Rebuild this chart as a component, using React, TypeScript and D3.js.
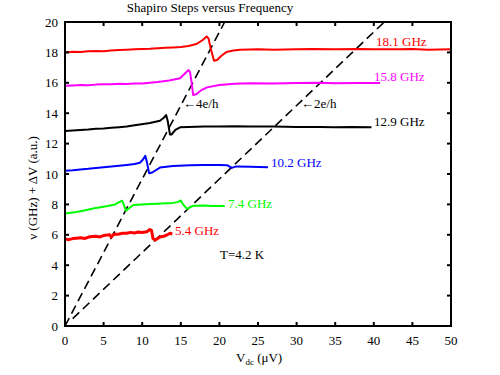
import React from "react";
import * as d3 from "d3";

type P = [number, number];

const xTicks = [0, 5, 10, 15, 20, 25, 30, 35, 40, 45, 50];
const yTicks = [0, 2, 4, 6, 8, 10, 12, 14, 16, 18, 20];

const red181: P[] = [[0,18.0],[1,18.04],[2,18.02],[3,18.08],[4,18.1],[5,18.08],[6,18.13],[7,18.15],[8,18.18],[9,18.2],[10,18.22],[11,18.24],[12,18.28],[13,18.3],[14,18.33],[15,18.36],[16,18.42],[17,18.55],[17.8,18.8],[18.35,19.05],[18.6,18.9],[18.9,18.2],[19.3,17.45],[19.7,17.5],[20.3,17.8],[20.9,18.02],[21.8,18.12],[22.7,18.18],[25,18.2],[27,18.18],[30,18.2],[32,18.22],[35,18.2],[38,18.22],[40,18.2],[43,18.2],[45,18.22],[47,18.18],[50,18.2]];
const mag158: P[] = [[0,15.8],[1,15.82],[2,15.85],[3,15.84],[4,15.88],[5,15.9],[6,15.9],[7,15.93],[8,15.92],[9,15.95],[10,15.95],[11,16.0],[12,16.05],[13.5,16.15],[14.9,16.3],[15.6,16.65],[16.0,16.84],[16.2,16.7],[16.4,16.0],[16.6,15.2],[17.0,15.25],[17.6,15.5],[18.4,15.7],[20,15.85],[22,15.93],[24,15.97],[27,15.95],[30,15.98],[33,16.0],[35,15.97],[38,15.98],[40.8,15.98]];
const black129: P[] = [[0,12.83],[1,12.86],[2,12.9],[3,12.93],[4,12.98],[5,13.0],[6,13.05],[7,13.08],[8,13.12],[9,13.2],[9.7,13.25],[11,13.35],[12.3,13.5],[12.8,13.7],[13.1,13.88],[13.3,13.5],[13.6,12.6],[13.8,12.6],[14.3,12.9],[14.9,13.07],[16,13.1],[18,13.12],[20,13.12],[22,13.14],[24,13.12],[27,13.12],[30,13.1],[33,13.1],[35,13.08],[37,13.1],[39.7,13.07]];
const blue102: P[] = [[0,10.22],[1,10.25],[2,10.3],[3,10.34],[4,10.4],[5,10.45],[6,10.5],[7,10.55],[8,10.6],[9,10.66],[9.7,10.74],[10.1,10.95],[10.4,11.2],[10.6,10.8],[10.9,10.05],[11.3,10.1],[12.3,10.42],[14,10.52],[16.2,10.58],[18,10.6],[20,10.6],[21,10.58],[21.6,10.4],[22.2,10.5],[24,10.47],[26.3,10.45]];
const green74: P[] = [[0,7.4],[1.5,7.5],[2.5,7.6],[3.2,7.68],[4,7.76],[5,7.85],[6,7.95],[6.5,8.0],[7.0,8.15],[7.4,8.24],[7.6,8.0],[7.9,7.59],[8.3,7.75],[8.85,7.96],[10,8.0],[11,8.02],[12,8.05],[13,8.08],[14,8.1],[14.6,8.15],[15.0,8.26],[15.3,8.0],[15.8,7.7],[16.6,7.91],[18,7.92],[19,7.9],[20.7,7.9]];
const red54: P[] = [[0,5.72],[0.5,5.68],[1,5.75],[1.5,5.78],[2,5.8],[2.6,5.76],[3.2,5.87],[4,5.9],[4.5,5.86],[5,5.95],[5.8,6.0],[6.0,5.85],[6.3,6.02],[7,6.05],[7.5,6.1],[8,6.1],[8.5,6.16],[9,6.12],[9.5,6.18],[10,6.15],[10.6,6.2],[11.0,6.35],[11.2,6.3],[11.4,5.75],[11.7,5.65],[12.3,5.85],[12.8,5.9],[13.2,5.99],[13.6,6.1],[13.9,6.05]];

const series = [
  { data: red181, color: "#ff0000", label: "18.1 GHz", lx: 376, ly: 46, w: 2 },
  { data: mag158, color: "#ff00ff", label: "15.8 GHz", lx: 374, ly: 81, w: 2 },
  { data: black129, color: "#000000", label: "12.9 GHz", lx: 374, ly: 126, w: 2 },
  { data: blue102, color: "#0000ff", label: "10.2 GHz", lx: 271, ly: 167, w: 2 },
  { data: green74, color: "#00ff00", label: "7.4 GHz", lx: 228, ly: 208, w: 2 },
  { data: red54, color: "#ff0000", label: "5.4 GHz", lx: 175, ly: 235, w: 3 },
];

// Josephson relations (GHz per µV)
const twoEh: P[] = [[1, 0.4836], [41.36, 20]];
const fourEh: P[] = [[0, 0], [20.68, 20]];

const L = 65, R = 451, T = 22, B = 326;

export default function App() {
  const x = d3.scaleLinear().domain([0, 50]).range([L, R]);
  const y = d3.scaleLinear().domain([0, 20]).range([B, T]);
  const line = d3.line<P>().x((d) => x(d[0])).y((d) => y(d[1]));
  return (
    <svg width={500} height={375} style={{ position: "absolute", left: 0, top: 0, background: "#fff", fontFamily: "Liberation Serif, DejaVu Serif, serif", fontSize: 13 }}>
      <text x={210} y={12} textAnchor="middle">Shapiro Steps versus Frequency</text>
      <path d={line(fourEh) || ""} fill="none" stroke="#000" strokeWidth={1.6} strokeDasharray="9,5" />
      <path d={line(twoEh) || ""} fill="none" stroke="#000" strokeWidth={1.6} strokeDasharray="9,5" />
      {series.map((s, i) => (
        <g key={i}>
          <path d={line(s.data) || ""} fill="none" stroke={s.color} strokeWidth={s.w} strokeLinejoin="round" />
          <text x={s.lx} y={s.ly} fill={s.color}>{s.label}</text>
        </g>
      ))}
      <text x={183} y={108}>←4e/h</text>
      <text x={301} y={108}>←2e/h</text>
      <text x={220} y={259}>T=4.2 K</text>
      <rect x={L} y={T} width={R - L} height={B - T} fill="none" stroke="#000" strokeWidth={2} />
      {xTicks.map((t) => (
        <g key={"x" + t}>
          <line x1={x(t)} x2={x(t)} y1={B} y2={B - 4} stroke="#000" strokeWidth={2} />
          <line x1={x(t)} x2={x(t)} y1={T} y2={T + 4} stroke="#000" strokeWidth={2} />
          <text x={x(t)} y={345} textAnchor="middle">{t}</text>
        </g>
      ))}
      {yTicks.map((t) => (
        <g key={"y" + t}>
          <line x1={L} x2={L + 4} y1={y(t)} y2={y(t)} stroke="#000" strokeWidth={2} />
          <line x1={R} x2={R - 4} y1={y(t)} y2={y(t)} stroke="#000" strokeWidth={2} />
          <text x={58} y={y(t)} dy="0.35em" textAnchor="end">{t}</text>
        </g>
      ))}
      <text x={236} y={362}>V<tspan fontSize={9} dy={3}>dc</tspan><tspan dy={-3}> (μV)</tspan></text>
      <text transform="translate(37,188) rotate(-90)" textAnchor="middle">ν (GHz) + ΔV (a.u.)</text>
    </svg>
  );
}
